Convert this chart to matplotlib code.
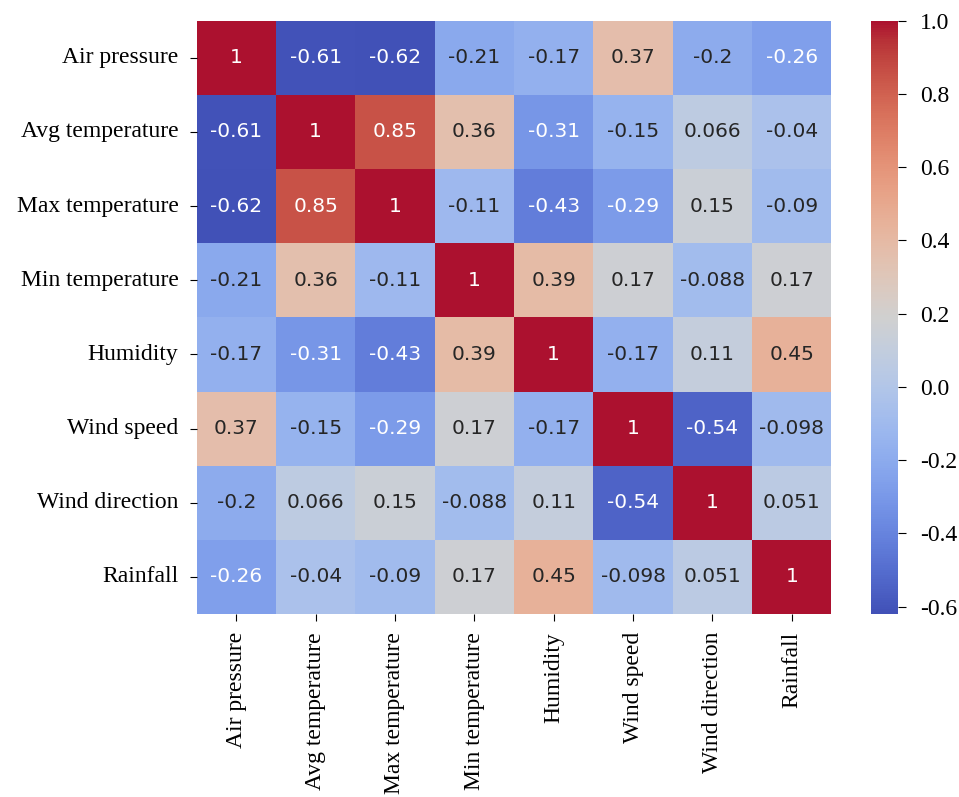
import numpy as np
import matplotlib
matplotlib.use('Agg')
import matplotlib.pyplot as plt
from matplotlib.colors import ListedColormap, Normalize
import seaborn as sns
from seaborn.utils import relative_luminance

plt.rcParams['axes.unicode_minus'] = False

labels = ['Air pressure', 'Avg temperature', 'Max temperature', 'Min temperature',
          'Humidity', 'Wind speed', 'Wind direction', 'Rainfall']

corr = np.array([
    [1, -0.61, -0.62, -0.21, -0.17, 0.37, -0.2, -0.26],
    [-0.61, 1, 0.85, 0.36, -0.31, -0.15, 0.066, -0.04],
    [-0.62, 0.85, 1, -0.11, -0.43, -0.29, 0.15, -0.09],
    [-0.21, 0.36, -0.11, 1, 0.39, 0.17, -0.088, 0.17],
    [-0.17, -0.31, -0.43, 0.39, 1, -0.17, 0.11, 0.45],
    [0.37, -0.15, -0.29, 0.17, -0.17, 1, -0.54, -0.098],
    [-0.2, 0.066, 0.15, -0.088, 0.11, -0.54, 1, 0.051],
    [-0.26, -0.04, -0.09, 0.17, 0.45, -0.098, 0.051, 1],
])

# slightly washed-out coolwarm, like the printed figure
cw = plt.get_cmap('coolwarm')
base = cw(np.linspace(0, 1, 256))[:, :3]
soft = base * 0.88 + 0.45 * 0.12
cmap = ListedColormap(soft)

fig = plt.figure(figsize=(9.59, 7.97), dpi=100)
ax = fig.add_axes([0.205, 0.2296, 0.662, 0.7444])
cax = fig.add_axes([0.908, 0.2296, 0.028, 0.7444])

sns.heatmap(corr, ax=ax, cbar_ax=cax, cmap=cmap, annot=True,
            annot_kws={'size': 14.5, 'family': 'DejaVu Sans'},
            xticklabels=labels, yticklabels=labels)

# text colour picked from the plain coolwarm colours
norm = Normalize(corr.min(), corr.max())
for txt, val in zip(ax.texts, corr.flatten()):
    lum = relative_luminance(cw(norm(val)))
    txt.set_color('.15' if lum > .408 else 'w')

ax.set_xticklabels(labels, rotation=90, family='Liberation Serif', fontsize=17)
ax.set_yticklabels(labels, rotation=0, family='Liberation Serif', fontsize=17)
ax.tick_params(axis='both', length=5, pad=8)
cax.tick_params(labelsize=17, length=6, pad=10)
for t in cax.get_yticklabels():
    t.set_family('Liberation Serif')

fig.savefig('out.png', dpi=100)
